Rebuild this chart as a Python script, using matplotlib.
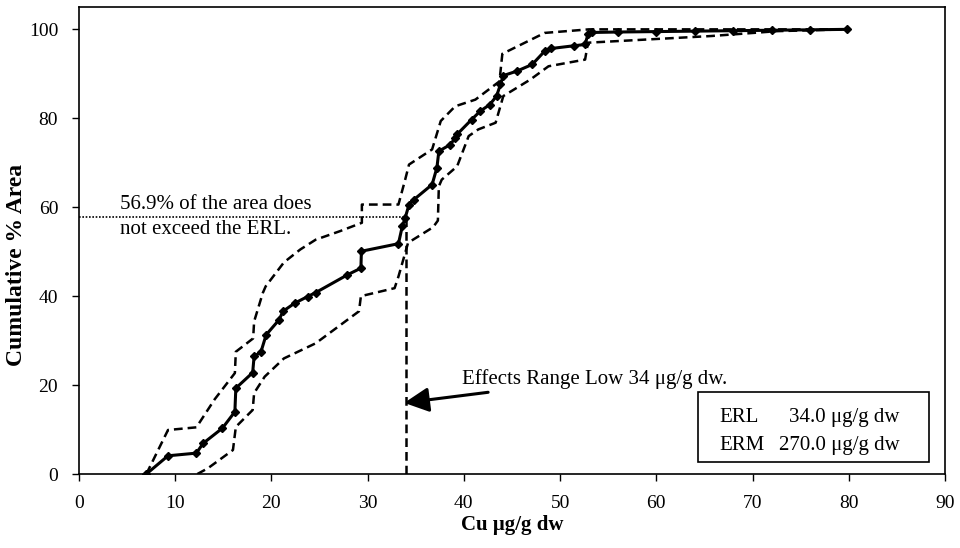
import numpy as np
import matplotlib
matplotlib.use('Agg')
import matplotlib.pyplot as plt
from matplotlib.patches import Rectangle

plt.rcParams['font.family'] = ['Liberation Serif', 'DejaVu Serif']

# cumulative % area curve (solid, diamonds)
cu_mid = [7.0, 9.25, 12.2, 12.9, 14.9, 16.2, 16.3, 18.05, 18.2, 18.9, 19.45, 20.8, 21.2,
          22.4, 23.75, 24.6, 27.9, 29.3, 29.35, 33.2, 33.6, 33.9, 34.3, 34.8, 36.7, 37.2,
          37.4, 38.6, 39.1, 39.3, 40.8, 41.7, 42.7, 43.4, 43.8, 44.1, 45.5, 47.1, 48.4,
          49.1, 51.4, 52.6, 52.9, 53.3, 56.0, 60.0, 64.0, 68.0, 72.0, 76.0, 79.8]
pct_mid = [0.0, 4.1, 4.7, 6.9, 10.3, 14.0, 19.3, 22.8, 26.5, 27.4, 31.3, 34.7, 36.6,
           38.4, 39.9, 40.8, 44.8, 46.3, 50.1, 51.8, 55.7, 57.6, 60.6, 61.7, 65.1, 68.9,
           72.6, 74.1, 75.6, 76.4, 79.7, 81.6, 83.1, 85.0, 87.6, 89.6, 90.6, 92.1, 95.1,
           95.7, 96.3, 96.6, 98.9, 99.3, 99.4, 99.5, 99.6, 99.7, 99.8, 99.9, 100.0]

# upper confidence bound (dashed)
cu_up = [7.0, 9.25, 12.2, 14.1, 16.2, 16.3, 18.1, 18.2, 19.1, 19.4, 21.3, 23.0, 24.6,
         27.1, 29.4, 29.4, 33.2, 33.9, 34.3, 36.7, 37.6, 39.1, 41.2, 43.7, 44.0, 48.4,
         53.0, 79.8]
pct_up = [0.0, 9.9, 10.5, 16.8, 22.7, 27.5, 30.5, 34.3, 40.7, 42.2, 47.6, 50.5, 52.7,
          54.6, 56.5, 60.6, 60.6, 66.2, 69.6, 73.0, 79.4, 82.7, 84.2, 88.3, 94.5, 99.2,
          100.0, 100.0]

# lower confidence bound (dashed)
cu_lo = [12.3, 13.4, 16.0, 16.3, 18.05, 18.2, 19.3, 21.3, 24.6, 29.1, 29.3, 32.8, 33.2,
         33.9, 34.2, 36.8, 37.3, 37.4, 37.7, 39.3, 40.5, 41.5, 43.3, 44.1, 46.9, 48.8,
         52.6, 52.9, 65.7, 72.6, 79.8]
pct_lo = [0.0, 1.3, 5.4, 10.6, 14.4, 18.2, 21.9, 26.0, 29.4, 36.6, 40.0, 41.8, 44.4,
          49.7, 52.0, 55.5, 57.0, 64.7, 66.2, 69.2, 76.0, 77.5, 79.0, 85.0, 88.7, 91.7,
          93.2, 97.0, 98.5, 99.6, 100.0]

erl = 34.0
erm = 270.0
pct_below_erl = 56.9
erl_curve_y = 57.7

dash = (0, (3.5, 2.0))

fig = plt.figure(figsize=(9.6, 5.48), dpi=100)
ax = fig.add_axes([0.0823, 0.135, 0.902, 0.852])

ax.plot(cu_up, pct_up, color='black', linestyle=dash, linewidth=1.8)
ax.plot(cu_lo, pct_lo, color='black', linestyle=dash, linewidth=1.8)
ax.plot(cu_mid, pct_mid, color='black', linewidth=2.2, marker='D', markersize=4)

# ERL markers
ax.plot([erl, erl], [0, erl_curve_y], color='black', linestyle=dash, linewidth=1.8)
ax.plot([0, erl], [erl_curve_y, erl_curve_y], color='black', linestyle=(0, (1, 1)), linewidth=1.2)

ax.text(4.3, erl_curve_y + 0.8, f'{pct_below_erl}% of the area does', fontsize=15,
        ha='left', va='bottom')
ax.text(4.3, erl_curve_y - 0.6, 'not exceed the ERL.', fontsize=15,
        ha='left', va='top')

ax.annotate('Effects Range Low 34 \u03bcg/g dw.', xy=(33.8, 16.0), xytext=(39.8, 21.4),
            fontsize=15, va='center', ha='left',
            arrowprops=dict(arrowstyle='-|>,head_length=1.0,head_width=0.5', color='black',
                            linewidth=2.2, shrinkA=4, shrinkB=0))

# ERL / ERM box
ax.add_patch(Rectangle((64.3, 2.8), 24.0, 15.7, fill=False, edgecolor='black', linewidth=1.2))
ax.text(66.6, 12.6, 'ERL', fontsize=15, va='center', ha='left')
ax.text(66.6, 6.5, 'ERM', fontsize=15, va='center', ha='left')
ax.text(85.3, 12.6, f'{erl:.1f} \u03bcg/g dw', fontsize=15, va='center', ha='right')
ax.text(85.3, 6.5, f'{erm:.1f} \u03bcg/g dw', fontsize=15, va='center', ha='right')

ax.set_xlim(0, 90)
ax.set_ylim(0, 105)
ax.set_xticks(np.arange(0, 91, 10))
ax.set_yticks(np.arange(0, 101, 20))
ax.tick_params(axis='both', direction='out', length=5, labelsize=14, width=1)
ax.tick_params(axis='x', pad=10)
ax.tick_params(axis='y', pad=10)
for s in ax.spines.values():
    s.set_linewidth(1.2)

ax.set_xlabel('Cu \u03bcg/g dw', fontsize=15, fontweight='bold', va='top')
ax.xaxis.set_label_coords(0.5, -0.088)
ax.set_ylabel('Cumulative % Area', fontsize=17, fontweight='bold')
ax.yaxis.set_label_coords(-0.06, 0.447)

fig.savefig('out.png', dpi=100)
